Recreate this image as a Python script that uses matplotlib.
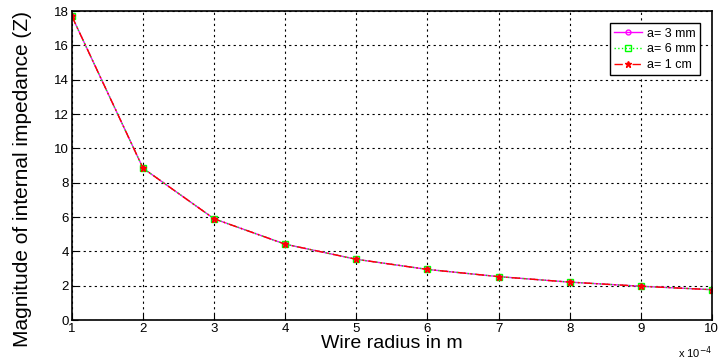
import matplotlib.pyplot as plt
import numpy as np

# wire radius (x 1e-4 m) and |Z| for three conductor sizes
radius = [1, 2, 3, 4, 5, 6, 7, 8, 9, 10]
z_3mm = [17.7, 8.85, 5.9, 4.42, 3.54, 2.95, 2.53, 2.21, 1.97, 1.77]
z_6mm = [17.7, 8.85, 5.9, 4.42, 3.54, 2.95, 2.53, 2.21, 1.97, 1.77]
z_1cm = [17.7, 8.85, 5.9, 4.42, 3.54, 2.95, 2.53, 2.21, 1.97, 1.77]
labels = ["a= 3 mm", "a= 6 mm", "a= 1 cm"]

plt.rcParams["font.family"] = ["Liberation Sans", "DejaVu Sans"]

fig = plt.figure(figsize=(7.19, 3.6), dpi=100)
ax = fig.add_axes([0.1, 0.111, 0.89, 0.858])

x = np.array(radius) * 1e-4
ax.plot(x, z_3mm, color="magenta", linestyle="-", marker="o", markersize=3.5,
        markerfacecolor="none", linewidth=1, label=labels[0])
ax.plot(x, z_6mm, color="#00ff00", linestyle=":", marker="s", markersize=4.5,
        markerfacecolor="none", linewidth=1, label=labels[1])
ax.plot(x, z_1cm, color="red", linestyle=(0, (6, 3, 1, 3)), marker="*",
        markersize=5, linewidth=1, label=labels[2])

ax.set_xlim(1e-4, 10e-4)
ax.set_ylim(0, 18)
ax.set_xticks(x)
ax.set_xticklabels([str(r) for r in radius])
ax.set_yticks(range(0, 19, 2))
ax.tick_params(direction="in", labelsize=9.5, length=4, pad=2)
ax.grid(True, color="black", linestyle=(0, (2, 3)), linewidth=0.8)
for s in ax.spines.values():
    s.set_linewidth(1.2)

ax.text(1.0, -0.08, r"x 10$^{-4}$", transform=ax.transAxes,
        ha="right", va="top", fontsize=8)
ax.set_xlabel("Wire radius in m", fontsize=14, labelpad=0)
ax.set_ylabel("Magnitude of internal impedance (Z)", fontsize=15)
ax.yaxis.set_label_coords(-0.062, 0.455)

leg = ax.legend(loc="upper right", bbox_to_anchor=(0.981, 0.961), fontsize=9,
                fancybox=False, framealpha=1, edgecolor="black",
                handlelength=2.2, borderpad=0.35, labelspacing=0.3,
                handletextpad=0.4, borderaxespad=0)
leg.get_frame().set_linewidth(1)

fig.savefig("out.png", dpi=100)
